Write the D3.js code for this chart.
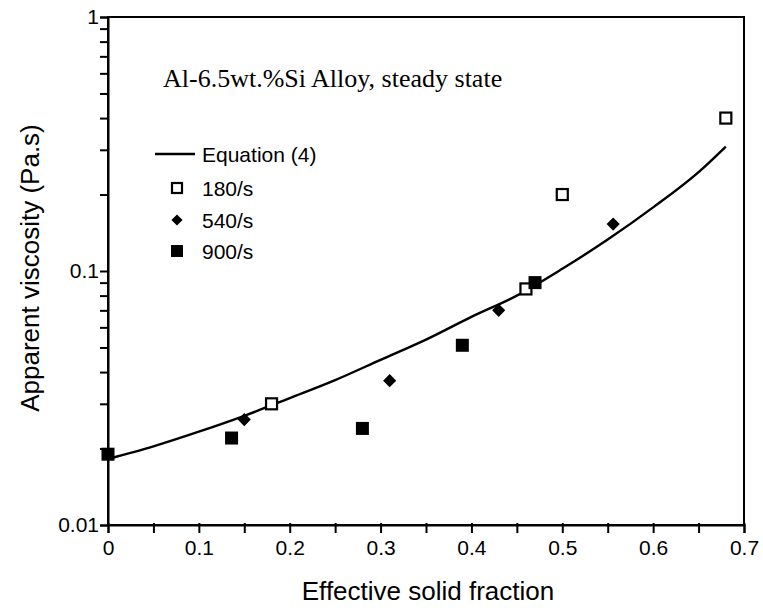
<!DOCTYPE html>
<html>
<head>
<meta charset="utf-8">
<script src="https://cdn.jsdelivr.net/npm/d3@7"></script>
<style>
  html, body { margin: 0; padding: 0; background: #fff; }
  svg { display: block; }
</style>
</head>
<body>
<svg id="chart" width="763" height="611"></svg>
<script>
// Equation (4) curve, read along its length
const eqX = [0, 0.05, 0.1, 0.15, 0.2, 0.25, 0.3, 0.35, 0.4, 0.45, 0.5, 0.55, 0.6, 0.65, 0.68];
const eqY = [0.0182, 0.0204, 0.0233, 0.0269, 0.0316, 0.0372, 0.0447, 0.0537, 0.066, 0.080, 0.102, 0.133, 0.178, 0.245, 0.309];

// Measured apparent viscosity at each shear rate
const s180X = [0.18, 0.46, 0.50, 0.68];
const s180Y = [0.030, 0.085, 0.20, 0.40];
const s540X = [0.15, 0.31, 0.43, 0.556];
const s540Y = [0.026, 0.037, 0.070, 0.153];
const s900X = [0, 0.136, 0.28, 0.39, 0.47];
const s900Y = [0.019, 0.022, 0.024, 0.051, 0.090];

const xTicks = [0, 0.1, 0.2, 0.3, 0.4, 0.5, 0.6, 0.7];
const xMinor = [0.05, 0.15, 0.25, 0.35, 0.45, 0.55, 0.65];
const yTicks = [0.01, 0.1, 1];
const yTickLabels = ["0.01", "0.1", "1"];

const legendLabels = ["Equation (4)", "180/s", "540/s", "900/s"];
const titleText = "Al-6.5wt.%Si Alloy, steady state";
const xTitle = "Effective solid fraction";
const yTitle = "Apparent viscosity (Pa.s)";

const svg = d3.select("#chart");
const sans = "'Liberation Sans', Arial, sans-serif";
const serif = "'Liberation Serif', 'Times New Roman', serif";

const x = d3.scaleLinear().domain([0, 0.7]).range([108, 744]);
const y = d3.scaleLog().domain([0.01, 1]).range([525, 17]);

// Minor log ticks 2..9 in each decade
const yMinor = [];
[0.01, 0.1].forEach(d => { for (let k = 2; k <= 9; k++) yMinor.push(d * k); });

// Frame
svg.append("rect")
  .attr("x", x(0)).attr("y", y(1))
  .attr("width", x(0.7) - x(0)).attr("height", y(0.01) - y(1))
  .attr("fill", "none").attr("stroke", "#000").attr("stroke-width", 2);

// X axis
const xAxis = d3.axisBottom(x).tickValues(xTicks.concat(xMinor)).tickSize(8)
  .tickFormat(d => xTicks.includes(d) ? d3.format("")(d) : "");
const gx = svg.append("g").attr("transform", `translate(0,${y(0.01)})`).call(xAxis);
gx.select(".domain").attr("stroke-width", 2);
gx.selectAll(".tick line").attr("stroke-width", 2).attr("y1", -2);
gx.selectAll(".tick text").attr("font-family", sans).attr("font-size", 21)
  .attr("fill", "#000").attr("y", 15).attr("dy", "0.71em");

// Y axis
const yAxis = d3.axisLeft(y).tickValues(yTicks.concat(yMinor)).tickSize(8)
  .tickFormat(d => { const i = yTicks.indexOf(d); return i >= 0 ? yTickLabels[i] : ""; });
const gy = svg.append("g").attr("transform", `translate(${x(0)},0)`).call(yAxis);
gy.select(".domain").attr("stroke-width", 2);
gy.selectAll(".tick line").attr("stroke-width", 2);
gy.selectAll(".tick text").attr("font-family", sans).attr("font-size", 21)
  .attr("fill", "#000").attr("x", -9);

// Axis titles
svg.append("text").attr("x", 428).attr("y", 600).attr("text-anchor", "middle")
  .attr("font-family", sans).attr("font-size", 26).text(xTitle);
svg.append("text").attr("transform", "translate(39,268) rotate(-90)").attr("text-anchor", "middle")
  .attr("font-family", sans).attr("font-size", 26).text(yTitle);

// Title inside plot
svg.append("text").attr("x", 163).attr("y", 87)
  .attr("font-family", serif).attr("font-size", 26).text(titleText);

// Equation (4) curve
const line = d3.line().x(d => x(d[0])).y(d => y(d[1])).curve(d3.curveMonotoneX);
svg.append("path").datum(eqX.map((v, i) => [v, eqY[i]]))
  .attr("d", line).attr("fill", "none").attr("stroke", "#000").attr("stroke-width", 2.4);

// Markers
const sq = 13;
svg.append("g").selectAll("rect").data(s180X.map((v, i) => [v, s180Y[i]])).join("rect")
  .attr("x", d => x(d[0]) - sq / 2 + 1).attr("y", d => y(d[1]) - sq / 2 + 1)
  .attr("width", sq - 2).attr("height", sq - 2)
  .attr("fill", "#fff").attr("stroke", "#000").attr("stroke-width", 2.2);

const diamond = d3.symbol().type(d3.symbolDiamond2).size(110);
svg.append("g").selectAll("path").data(s540X.map((v, i) => [v, s540Y[i]])).join("path")
  .attr("transform", d => `translate(${x(d[0])},${y(d[1])})`)
  .attr("d", diamond).attr("fill", "#000");

svg.append("g").selectAll("rect").data(s900X.map((v, i) => [v, s900Y[i]])).join("rect")
  .attr("x", d => x(d[0]) - sq / 2).attr("y", d => y(d[1]) - sq / 2)
  .attr("width", sq).attr("height", sq).attr("fill", "#000");

// Legend
const lg = svg.append("g").attr("font-family", sans).attr("font-size", 21);
lg.append("line").attr("x1", 155).attr("x2", 195).attr("y1", 154).attr("y2", 154)
  .attr("stroke", "#000").attr("stroke-width", 2.4);
const rowsY = [154, 188, 220, 251];
legendLabels.forEach((t, i) => {
  lg.append("text").attr("x", 202).attr("y", rowsY[i]).attr("dy", "0.36em").text(t);
});
lg.append("rect").attr("x", 172).attr("y", rowsY[1] - 5).attr("width", 10).attr("height", 10)
  .attr("fill", "#fff").attr("stroke", "#000").attr("stroke-width", 2.2);
lg.append("path").attr("transform", `translate(177,${rowsY[2]})`).attr("d", d3.symbol().type(d3.symbolDiamond2).size(80)).attr("fill", "#000");
lg.append("rect").attr("x", 171).attr("y", rowsY[3] - 6).attr("width", 12).attr("height", 12).attr("fill", "#000");
</script>
</body>
</html>
